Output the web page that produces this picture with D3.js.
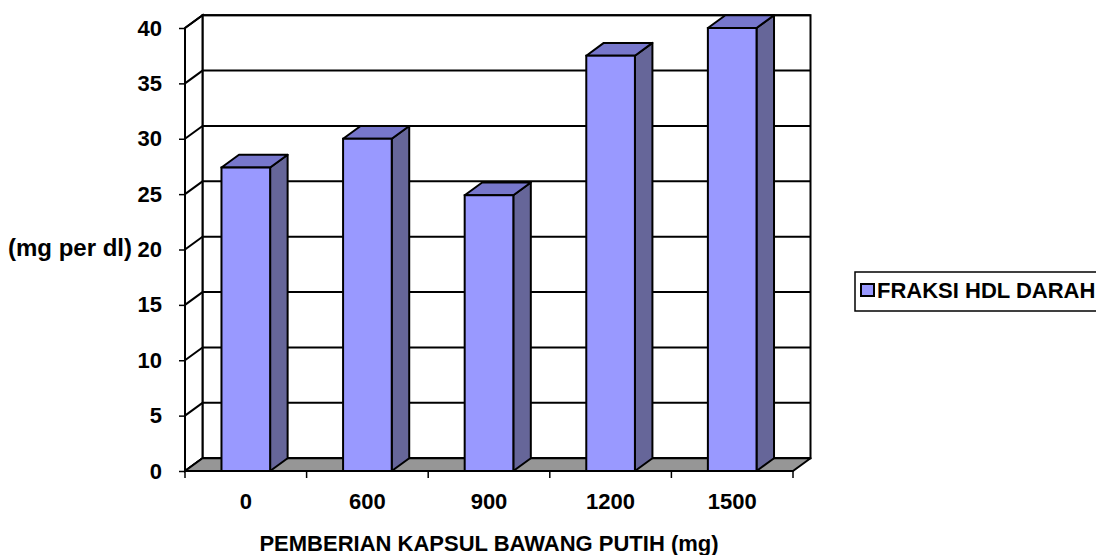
<!DOCTYPE html>
<html>
<head>
<meta charset="utf-8">
<script src="https://cdn.jsdelivr.net/npm/d3@7"></script>
<style>
  html, body { margin: 0; padding: 0; background: #fff; }
  svg { display: block; }
  text { font-family: "Liberation Sans", Arial, sans-serif; font-weight: bold; fill: #000; }
</style>
</head>
<body>
<svg id="chart" width="1096" height="555"></svg>
<script>
// HDL fraction per garlic-capsule dose
const categories = ["0", "600", "900", "1200", "1500"];
const hdlValues = [27.4, 30.0, 24.9, 37.5, 40.0];
const yTicks = [0, 5, 10, 15, 20, 25, 30, 35, 40];
const seriesName = "FRAKSI HDL DARAH";
const xTitle = "PEMBERIAN KAPSUL BAWANG PUTIH (mg)";
const yTitle = "(mg per dl)";

const svg = d3.select("#chart");
const fontSize = "22px";

// front plane scales
const x = d3.scaleBand().domain(categories).range([185, 793]).paddingInner(0.6).paddingOuter(0.3);
const y = d3.scaleLinear().domain([0, 40]).range([471, 28]);
// depth offset of the 3-D box
const dx = 17.5, dy = -12.8;

const x0 = x.range()[0], x1 = x.range()[1];
const lineW = 2;

// back wall
svg.append("rect")
  .attr("x", x0 + dx).attr("y", y(40) + dy)
  .attr("width", x1 - x0).attr("height", y(0) - y(40))
  .attr("fill", "#fff").attr("stroke", "#000").attr("stroke-width", lineW);

// back wall gridlines
svg.append("g").selectAll("line").data(yTicks).join("line")
  .attr("x1", x0 + dx).attr("x2", x1 + dx)
  .attr("y1", d => y(d) + dy).attr("y2", d => y(d) + dy)
  .attr("stroke", "#000").attr("stroke-width", lineW);

// side wall
svg.append("path")
  .attr("d", `M${x0},${y(0)}L${x0},${y(40)}L${x0 + dx},${y(40) + dy}L${x0 + dx},${y(0) + dy}Z`)
  .attr("fill", "#fff").attr("stroke", "#000").attr("stroke-width", lineW);
svg.append("g").selectAll("line").data(yTicks).join("line")
  .attr("x1", x0).attr("x2", x0 + dx)
  .attr("y1", d => y(d)).attr("y2", d => y(d) + dy)
  .attr("stroke", "#000").attr("stroke-width", lineW);

// floor
svg.append("path")
  .attr("d", `M${x0},${y(0)}L${x1},${y(0)}L${x1 + dx},${y(0) + dy}L${x0 + dx},${y(0) + dy}Z`)
  .attr("fill", "#969696").attr("stroke", "#000").attr("stroke-width", lineW)
  .attr("stroke-linejoin", "round");

// bars: side, top, front
const bars = svg.append("g").selectAll("g").data(categories.map((c, i) => ({ c, v: hdlValues[i] }))).join("g");
bars.append("path")
  .attr("d", d => {
    const r = x(d.c) + x.bandwidth(), t = y(d.v), b = y(0);
    return `M${r},${b}L${r},${t}L${r + dx},${t + dy}L${r + dx},${b + dy}Z`;
  })
  .attr("fill", "#666699").attr("stroke", "#000").attr("stroke-width", lineW).attr("stroke-linejoin", "round");
bars.append("path")
  .attr("d", d => {
    const l = x(d.c), r = l + x.bandwidth(), t = y(d.v);
    return `M${l},${t}L${r},${t}L${r + dx},${t + dy}L${l + dx},${t + dy}Z`;
  })
  .attr("fill", "#7777cc").attr("stroke", "#000").attr("stroke-width", lineW).attr("stroke-linejoin", "round");
bars.append("rect")
  .attr("x", d => x(d.c)).attr("y", d => y(d.v))
  .attr("width", x.bandwidth()).attr("height", d => y(0) - y(d.v))
  .attr("fill", "#9999ff").attr("stroke", "#000").attr("stroke-width", lineW);

// y axis
const yAxis = d3.axisLeft(y).tickValues(yTicks).tickSize(6).tickPadding(17);
const gy = svg.append("g").attr("transform", `translate(${x0},0)`).call(yAxis);
gy.select(".domain").remove();
gy.selectAll(".tick line").attr("stroke", "#000").attr("stroke-width", 1.5);
gy.selectAll(".tick text").style("font-size", fontSize).style("font-family", "'Liberation Sans', Arial, sans-serif").style("font-weight", "bold").attr("fill", "#000");

// x axis: ticks between categories
const boundaries = d3.range(categories.length + 1).map(i => x0 + i * x.step());
svg.append("g").selectAll("line").data(boundaries).join("line")
  .attr("x1", d => d).attr("x2", d => d)
  .attr("y1", y(0)).attr("y2", y(0) + 7)
  .attr("stroke", "#000").attr("stroke-width", 1.5);
svg.append("g").selectAll("text").data(categories).join("text")
  .attr("x", d => x(d) + x.bandwidth() / 2)
  .attr("y", 501).attr("dy", "0.35em")
  .attr("text-anchor", "middle").style("font-size", fontSize)
  .text(d => d);

// axis titles
svg.append("text").attr("x", 489).attr("y", 543).attr("dy", "0.35em")
  .attr("text-anchor", "middle").style("font-size", fontSize).text(xTitle);
svg.append("text").attr("x", 8).attr("y", 248).attr("dy", "0.35em")
  .style("font-size", "24px").text(yTitle);

// legend
const lg = svg.append("g");
lg.append("rect").attr("x", 855).attr("y", 272).attr("width", 260).attr("height", 39)
  .attr("fill", "#fff").attr("stroke", "#000").attr("stroke-width", 1.5);
lg.append("rect").attr("x", 861).attr("y", 284).attr("width", 13).attr("height", 12)
  .attr("fill", "#9999ff").attr("stroke", "#000").attr("stroke-width", 2);
lg.append("text").attr("x", 877).attr("y", 290).attr("dy", "0.35em")
  .style("font-size", fontSize).text(seriesName);
</script>
</body>
</html>
